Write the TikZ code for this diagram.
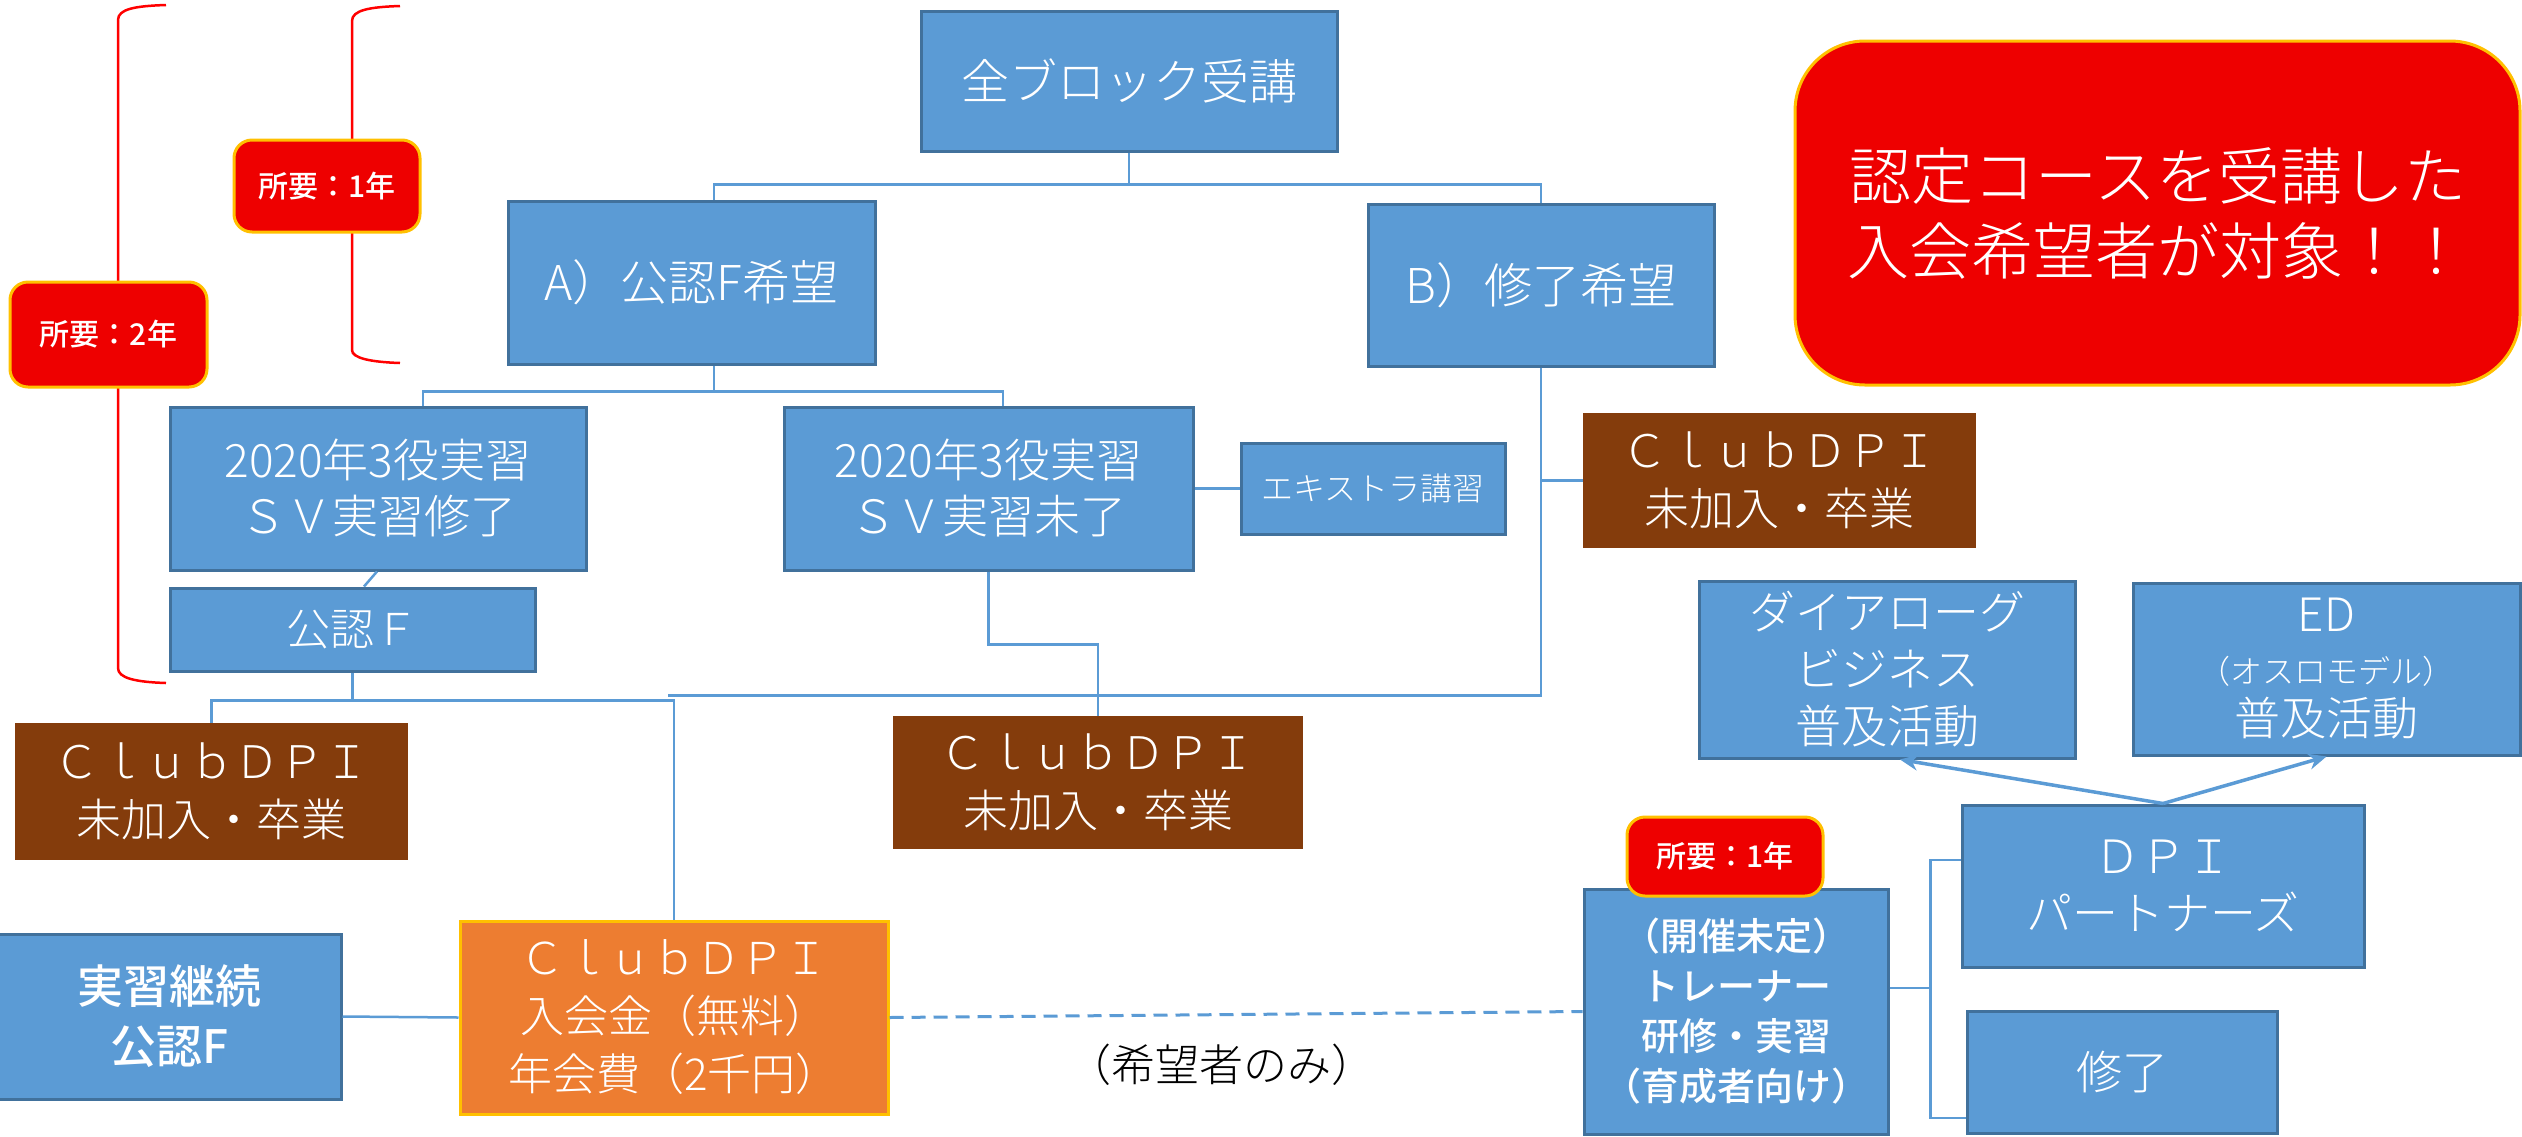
\documentclass[tikz,border=0pt]{standalone}
\usepackage{fontspec}
\setmainfont{Noto Sans CJK JP}[UprightFont={* Light}, BoldFont={* Medium}]
\usetikzlibrary{arrows.meta,calc}
\definecolor{bfill}{HTML}{5B9BD5}
\definecolor{bline}{HTML}{41719C}
\definecolor{brownc}{HTML}{843C0C}
\definecolor{orng}{HTML}{ED7D31}
\definecolor{gold}{HTML}{FFC000}
\definecolor{redf}{HTML}{EE0000}
\definecolor{brk}{HTML}{FF0000}
\tikzset{
  sz/.style 2 args={font=\fontsize{#1}{#2}\selectfont},
  bluebox/.style={draw=bline, fill=bfill, line width=3pt, text=white, align=center, inner sep=0pt},
  brownbox/.style={fill=brownc, text=white, align=center, inner sep=0pt},
  orangebox/.style={draw=gold, fill=orng, line width=3pt, text=white, align=center, inner sep=0pt},
  redbox/.style={draw=gold, fill=redf, line width=3pt, text=white, align=center, inner sep=0pt, rounded corners=18pt},
  conn/.style={draw=bfill, line width=2.5pt},
  arr/.style={draw=bfill, line width=3.5pt, -{Stealth[length=18pt,width=16pt]}},
  dashconn/.style={draw=bfill, line width=3pt, dash pattern=on 14pt off 8pt},
  bracket/.style={draw=brk, line width=2.5pt}
}
\begin{document}
\begin{tikzpicture}[x=1pt,y=-1pt]
\useasboundingbox (0,0) rectangle (2522,1136);
% brackets
\draw[bracket] (166,5) .. controls (135,6) and (118,9) .. (118,20) -- (118,668) .. controls (118,678) and (135,682) .. (166,683);
\draw[bracket] (400,6) .. controls (370,7) and (352,10) .. (352,21) -- (352,350) .. controls (352,358) and (370,362) .. (400,363);
% nodes
\node[bluebox, minimum width=416pt, minimum height=140pt, sz={48}{58}] (top) at (1129,81) {全ブロック受講};
\node[bluebox, minimum width=367pt, minimum height=163pt, sz={48}{58}] (A) at (691.5,282.5) {A）公認F希望};
\node[bluebox, minimum width=346pt, minimum height=162pt, sz={48}{58}] (B) at (1541,285) {B）修了希望};
\node[redbox, rounded corners=70pt, minimum width=725pt, minimum height=344pt, sz={62}{75}] (goal) at (2157.5,213) {認定コースを受講した\\入会希望者が対象！！};
\node[redbox, minimum width=186pt, minimum height=92pt, sz={30}{36}] (yra) at (327,186) {\bfseries 所要：1年};
\node[redbox, minimum width=197pt, minimum height=105pt, sz={30}{36}] (yrb) at (108.5,334.5) {\bfseries 所要：2年};
\node[bluebox, minimum width=416pt, minimum height=163pt, sz={46}{56}] (L2020) at (378,488.5) {2020年3役実習\\ＳＶ実習修了};
\node[bluebox, minimum width=409pt, minimum height=163pt, sz={46}{56}] (R2020) at (988.5,488.5) {2020年3役実習\\ＳＶ実習未了};
\node[bluebox, minimum width=264pt, minimum height=91pt, sz={32}{40}] (extra) at (1373,488.5) {エキストラ講習};
\node[brownbox, minimum width=393pt, minimum height=135pt, sz={45}{58}] (brownR) at (1779.5,480.5) {ＣｌｕｂＤＰＩ\\未加入・卒業};
\node[bluebox, minimum width=365pt, minimum height=83pt, sz={44}{54}] (kouninF) at (352.5,629.5) {公認Ｆ};
\node[brownbox, minimum width=393pt, minimum height=137pt, sz={45}{58}] (brownL) at (211.5,791.5) {ＣｌｕｂＤＰＩ\\未加入・卒業};
\node[brownbox, minimum width=410pt, minimum height=133pt, sz={45}{58}] (brownM) at (1098,782.5) {ＣｌｕｂＤＰＩ\\未加入・卒業};
\node[bluebox, minimum width=376pt, minimum height=177pt, sz={46}{57}] (dialog) at (1887,669.5) {ダイアローグ\\ビジネス\\普及活動};
\node[bluebox, minimum width=387pt, minimum height=172pt, sz={46}{52}] (ed) at (2326.5,669) {ED\\{\fontsize{32}{52}\selectfont （オスロモデル）}\\普及活動};
\node[bluebox, minimum width=402pt, minimum height=162pt, sz={46}{57}] (dpi) at (2163,886) {ＤＰＩ\\パートナーズ};
\node[bluebox, minimum width=304pt, minimum height=245pt, sz={38}{50}] (trainer) at (1736,1011.5) {\bfseries （開催未定）\\\bfseries トレーナー\\\bfseries 研修・実習\\\bfseries （育成者向け）};
\node[redbox, minimum width=196pt, minimum height=79pt, sz={30}{36}] (yrc) at (1725,856.5) {\bfseries 所要：1年};
\node[bluebox, minimum width=310pt, minimum height=122pt, sz={46}{56}] (done) at (2122,1072) {修了};
\node[bluebox, minimum width=343pt, minimum height=165pt, sz={46}{60}] (cont) at (169.5,1016.5) {\bfseries 実習継続\\\bfseries 公認F};
\node[orangebox, minimum width=428pt, minimum height=193pt, sz={44}{58}] (club) at (674,1017.5) {ＣｌｕｂＤＰＩ\\入会金（無料）\\年会費（2千円）};
\node[sz={44}{54}, inner sep=0pt] (note) at (1221,1065) {（希望者のみ）};
% connectors
\draw[conn] (top.south) -- ++(0,32) coordinate (j1);
\draw[conn] ([xshift=22.5pt]A.north) |- (j1) -| (B.north);
\draw[conn] ([xshift=22.5pt]A.south) -- ++(0,26) coordinate (j2);
\draw[conn] ([xshift=45pt]L2020.north) |- (j2) -| ([xshift=14.5pt]R2020.north);
\draw[conn] (R2020.east) -- (extra.west);
\draw[conn] ([xshift=-1pt]L2020.south) -- ([xshift=11.5pt]kouninF.north);
\draw[conn] (kouninF.south) -- ++(0,28) coordinate (j3);
\draw[conn] (brownL.north) |- (j3) -| (club.north);
\draw[conn] (B.south) -- (B.south |- brownR.west) -- (brownR.west);
\draw[conn] (B.south) -- ++(0,328) coordinate (j4) -- ([xshift=-6pt]j4 -| club.north);
\draw[conn] (R2020.south) -- ++(0,73) -| (brownM.north);
\draw[conn] (cont.east) -- (club.west);
\draw[dashconn] (club.east) -- (trainer.west);
\draw[conn] ([yshift=23.5pt]trainer.east) -- ++(41,0) coordinate (j5);
\draw[conn] ([yshift=26pt]dpi.west) -| (j5) |- ([yshift=-46pt]done.west);
\draw[arr] (dpi.north) -- ([xshift=13pt]dialog.south);
\draw[arr] (dpi.north) -- (ed.south);
\end{tikzpicture}
\end{document}
